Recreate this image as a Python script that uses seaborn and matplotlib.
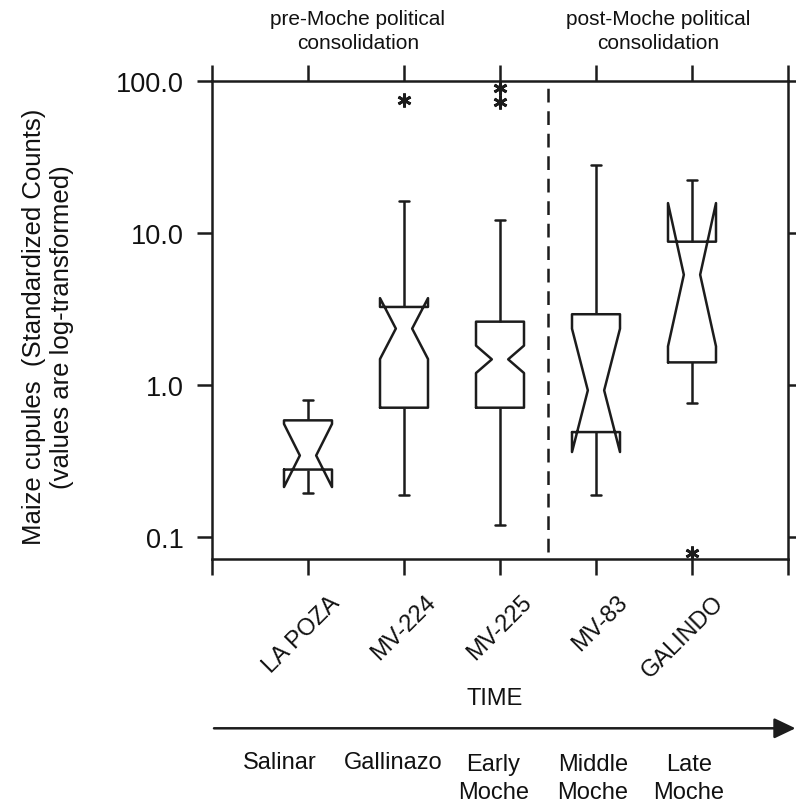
import numpy as np
import pandas as pd
import matplotlib
matplotlib.use("Agg")
import matplotlib.pyplot as plt
import seaborn as sns
from matplotlib.transforms import ScaledTranslation
from matplotlib.ticker import FixedLocator, FixedFormatter, NullLocator

# ---------------- data ----------------
sites = ["LA POZA", "MV-224", "MV-225", "MV-83", "GALINDO"]
periods = ["Salinar", "Gallinazo", "Early\nMoche", "Middle\nMoche", "Late\nMoche"]

# standardized maize cupule counts per site (values with their frequencies)
la_poza_values = [0.194, 0.269, 0.309, 0.384, 0.675, 0.793]
la_poza_counts = [1, 1, 1, 1, 1, 1]

mv224_values = [0.189, 0.45, 0.710, 1.3, 2.35, 2.9, 3.26, 8.0, 16.2, 75.0]
mv224_counts = [1, 4, 4, 3, 3, 3, 4, 3, 1, 1]

mv225_values = [0.121, 0.4, 0.710, 1.0, 1.476, 2.0, 2.61, 5.0, 12.2, 72.1, 89.1]
mv225_counts = [1, 10, 20, 12, 12, 12, 12, 10, 6, 1, 1]

mv83_values = [0.190, 0.32, 0.491, 0.70, 0.923, 1.7, 2.92, 7.5, 27.9]
mv83_counts = [1, 1, 1, 1, 1, 1, 1, 1, 1]

galindo_values = [0.0789, 0.761, 2.61, 5.31, 6.92, 11.07, 22.3]
galindo_counts = [1, 1, 1, 1, 1, 1, 1]

y_ticks = [0.1, 1.0, 10.0, 100.0]
y_tick_labels = ["0.1", "1.0", "10.0", "100.0"]

top_notes = ["pre-Moche political\nconsolidation", "post-Moche political\nconsolidation"]

# ---------------- table ----------------
site_values = [la_poza_values, mv224_values, mv225_values, mv83_values, galindo_values]
site_counts = [la_poza_counts, mv224_counts, mv225_counts, mv83_counts, galindo_counts]
frames = []
for name, vals, cnts in zip(sites, site_values, site_counts):
    v = np.repeat(np.asarray(vals, float), np.asarray(cnts, int))
    frames.append(pd.DataFrame({"site": name, "cupules": v}))
df = pd.concat(frames, ignore_index=True)

# ---------------- style ----------------
sns.set_style("ticks")
plt.rcParams["font.family"] = ["Liberation Sans", "DejaVu Sans"]
INK = "#1c1c1c"
LW = 1.8

W, H = 796, 803
fig = plt.figure(figsize=(W / 100, H / 100), dpi=100)
ax_l, ax_r, ax_t, ax_b = 212, 788, 81.7, 560
ax = fig.add_axes([ax_l / W, 1 - ax_b / H, (ax_r - ax_l) / W, (ax_b - ax_t) / H])

BOX_W = 0.5
sns.boxplot(
    data=df, x="site", y="cupules", order=sites, ax=ax,
    log_scale=True, notch=True, width=BOX_W, fill=False,
    color=INK, linecolor=INK, linewidth=LW, whis=1.5, capwidths=0.1,
    medianprops={"linewidth": 0},
    flierprops={"marker": (6, 2, 0), "markersize": 10,
                "markeredgewidth": 2.0, "markeredgecolor": INK},
)

# narrow the notch waist (reference notches pinch to ~1/3 of the box width)
for line in ax.lines:
    xd = np.asarray(line.get_xdata(), float)
    if len(xd) == 11:
        centre = (xd[0] + xd[1]) / 2
        for k in (3, 8):
            xd[k] = centre + (xd[k] - centre) * 0.68
        line.set_xdata(xd)

ax.set_xlim(-1, 5)
ax.set_ylim(10 ** -1.143, 100)
ax.set_xlabel("")
ax.set_ylabel("")

ax.set_xticks(range(-1, 6))
ax.set_xticklabels([""] + sites + [""])
ax.yaxis.set_major_locator(FixedLocator(y_ticks))
ax.yaxis.set_major_formatter(FixedFormatter(y_tick_labels))
ax.yaxis.set_minor_locator(NullLocator())

for sp in ax.spines.values():
    sp.set_visible(True)
    sp.set_linewidth(LW)
    sp.set_color(INK)

ax.tick_params(axis="both", which="major", direction="out", width=LW,
               color=INK, labelcolor="#111111", top=True, right=True,
               labeltop=False, labelright=False)
ax.tick_params(axis="y", length=11, labelsize=19.5, pad=9)
ax.tick_params(axis="x", length=11.5, labelsize=17, pad=18.5)

for lab in ax.get_xticklabels():
    lab.set_rotation(45)
    lab.set_ha("right")
    lab.set_va("center")
    lab.set_rotation_mode("anchor")
    lab.set_transform(lab.get_transform() + ScaledTranslation(0.28, 0.02, fig.dpi_scale_trans))

# dashed divider between Early Moche and Middle Moche
ax.axvline(2.5, ymin=0.015, ymax=0.985, color=INK, lw=LW, ls=(0, (5.5, 3.5)))

# ---------------- surrounding text ----------------
fig.text(48 / W, 1 - 327 / H, "Maize cupules  (Standardized Counts)\n(values are log-transformed)",
         rotation=90, ha="center", va="center", multialignment="center",
         fontsize=18.5, linespacing=1.2, color="#111111")

fig.text(358 / W, 1 - 31.5 / H, top_notes[0], ha="center", va="center",
         fontsize=15, linespacing=1.35, color="#111111")
fig.text(658 / W, 1 - 31.5 / H, top_notes[1], ha="center", va="center",
         fontsize=15, linespacing=1.35, color="#111111")

fig.text(494.5 / W, 1 - 699 / H, "TIME", ha="center", va="center", fontsize=17, color="#111111")

ax.annotate("", xy=(795.5 / W, 1 - 729.3 / H), xytext=(214 / W, 1 - 729.3 / H),
            xycoords="figure fraction", textcoords="figure fraction",
            arrowprops=dict(arrowstyle="-|>,head_length=1.3,head_width=0.62",
                            mutation_scale=10, lw=LW, color=INK,
                            shrinkA=0, shrinkB=0))

period_x = [280, 393.5, 493.5, 593, 689]
for px, label in zip(period_x, periods):
    yc = 763.5 if "\n" not in label else 779
    fig.text(px / W, 1 - yc / H, label, ha="center", va="center",
             fontsize=17, linespacing=1.33, color="#111111")

fig.savefig("out.png", dpi=100)
